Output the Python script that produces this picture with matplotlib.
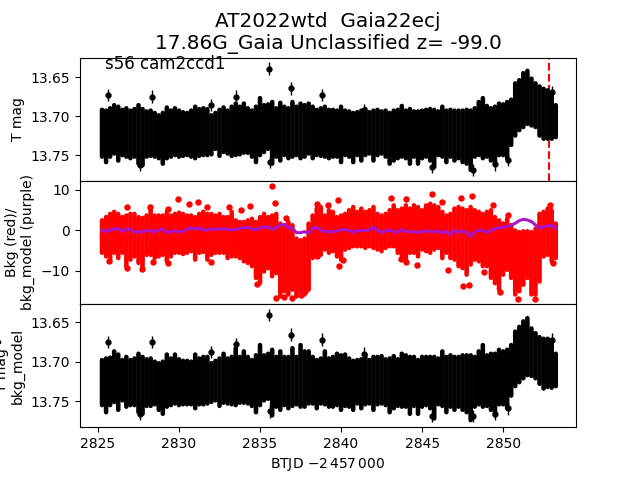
import matplotlib
matplotlib.use("Agg")
import matplotlib.pyplot as plt
import numpy as np

# one column of the dense light curve every 0.25 d
btjd = [2825.25, 2825.5, 2825.75, 2826.0, 2826.25, 2826.5, 2826.75, 2827.0, 2827.25, 2827.5,
        2827.75, 2828.0, 2828.25, 2828.5, 2828.75, 2829.0, 2829.25, 2829.5, 2829.75, 2830.0,
        2830.25, 2830.5, 2830.75, 2831.0, 2831.25, 2831.5, 2831.75, 2832.0, 2832.25, 2832.5,
        2832.75, 2833.0, 2833.25, 2833.5, 2833.75, 2834.0, 2834.25, 2834.5, 2834.75, 2835.0,
        2835.25, 2835.5, 2835.75, 2836.0, 2836.25, 2836.5, 2836.75, 2837.0, 2837.25, 2837.5,
        2837.75, 2838.0, 2838.25, 2838.5, 2838.75, 2839.0, 2839.25, 2839.5, 2839.75, 2840.0,
        2840.25, 2840.5, 2840.75, 2841.0, 2841.25, 2841.5, 2841.75, 2842.0, 2842.25, 2842.5,
        2842.75, 2843.0, 2843.25, 2843.5, 2843.75, 2844.0, 2844.25, 2844.5, 2844.75, 2845.0,
        2845.25, 2845.5, 2845.75, 2846.0, 2846.25, 2846.5, 2846.75, 2847.0, 2847.25, 2847.5,
        2847.75, 2848.0, 2848.25, 2848.5, 2848.75, 2849.0, 2849.25, 2849.5, 2849.75, 2850.0,
        2850.25, 2850.5, 2850.75, 2851.0, 2851.25, 2851.5, 2851.75, 2852.0, 2852.25, 2852.5,
        2852.75, 2853.0, 2853.25]

tmag_bright = [13.690, 13.691, 13.688, 13.684, 13.686, 13.690, 13.688, 13.691, 13.689, 13.684,
               13.689, 13.692, 13.691, 13.694, 13.697, 13.694, 13.687, 13.691, 13.688, 13.691,
               13.693, 13.694, 13.691, 13.686, 13.689, 13.688, 13.689, 13.697, 13.694, 13.690,
               13.687, 13.691, 13.686, 13.682, 13.686, 13.682, 13.688, 13.691, 13.686, 13.675,
               13.684, 13.683, 13.680, 13.688, 13.681, 13.686, 13.688, 13.680, 13.686, 13.682,
               13.684, 13.682, 13.686, 13.690, 13.688, 13.686, 13.690,
               13.690, 13.691, 13.686, 13.691, 13.692, 13.694, 13.693, 13.691, 13.689, 13.693,
               13.691, 13.690, 13.692, 13.691, 13.694, 13.691, 13.690, 13.685, 13.691, 13.689,
               13.692, 13.692, 13.691, 13.690, 13.689, 13.690, 13.692, 13.686, 13.691,
               13.690, 13.691, 13.691, 13.691, 13.690, 13.691, 13.688, 13.680, 13.675, 13.685,
               13.688, 13.686, 13.682, 13.683, 13.680, 13.677, 13.656, 13.652, 13.643, 13.640,
               13.650, 13.656, 13.660, 13.663, 13.665, 13.671, 13.684]
tmag_faint = [13.754, 13.761, 13.754, 13.750, 13.759, 13.752, 13.754, 13.756, 13.754, 13.763,
              13.765, 13.754, 13.753, 13.754, 13.756, 13.763, 13.756, 13.754, 13.752, 13.754,
              13.753, 13.752, 13.754, 13.756, 13.753, 13.752, 13.752, 13.751, 13.744, 13.753,
              13.748, 13.750, 13.753, 13.752, 13.751, 13.749, 13.749, 13.754, 13.761, 13.752,
              13.748, 13.744, 13.763, 13.754, 13.759, 13.752, 13.756, 13.754, 13.752, 13.756,
              13.754, 13.750, 13.756, 13.752, 13.753, 13.754, 13.756,
              13.754, 13.754, 13.761, 13.752, 13.754, 13.761, 13.752, 13.759, 13.752, 13.750,
              13.759, 13.752, 13.750, 13.754, 13.763, 13.759, 13.756, 13.754, 13.756, 13.763,
              13.754, 13.763, 13.756, 13.754, 13.759, 13.767, 13.752, 13.754, 13.761,
              13.754, 13.759, 13.756, 13.761, 13.763, 13.771, 13.754, 13.752, 13.756, 13.754,
              13.759, 13.763, 13.752, 13.752, 13.756, 13.739, 13.727, 13.720, 13.716, 13.712,
              13.714, 13.716, 13.727, 13.731, 13.731, 13.731, 13.729]

bkg_high = [3.0, 3.8, 4.6, 5.1, 4.6, 3.8, 4.2, 4.6, 4.6, 3.8,
            3.6, 4.2, 5.5, 4.2, 4.2, 4.2, 5.1, 4.2, 4.6, 4.9,
            4.6, 4.2, 4.2, 3.8, 4.6, 5.1, 4.6, 4.6, 4.2, 4.6,
            3.8, 3.8, 5.1, 3.0, 2.6, 2.6, 3.0, 3.4, 2.6, 3.8,
            4.6, 3.8, 4.2, 4.6, 2.2, 1.8, 2.6, 1.8, -1.5, -1.9,
            -1.5, 2.2, 4.2, 5.9, 6.3, 4.2, 5.5,
            5.1, 3.8, 4.2, 4.6, 5.5, 6.3, 5.1, 5.9, 5.1, 5.5,
            6.3, 4.6, 4.2, 4.6, 5.5, 6.7, 5.5, 5.9, 6.7, 5.9,
            6.7, 6.3, 5.5, 6.7, 7.1, 6.7, 6.3, 5.1, 4.2,
            4.6, 5.9, 6.3, 5.9, 5.5, 6.3, 5.5, 5.1, 4.6, 5.1,
            5.5, 3.8, 3.0, 2.2, 3.4, 1.8, 0.5, 0.1, 0.3, 0.3,
            0.1, 0.9, 4.6, 5.1, 5.9, 5.5, 2.2]
bkg_low = [-6.0, -6.9, -7.7, -6.0, -7.3, -6.0, -9.3, -7.7, -6.9, -8.5,
           -9.8, -6.5, -6.5, -7.3, -6.9, -6.5, -8.1, -6.9, -6.0, -6.0,
           -6.3, -6.0, -5.6, -7.7, -6.0, -5.8, -7.7, -6.5, -6.0, -6.0,
           -6.0, -7.3, -6.9, -6.9, -7.3, -8.1, -8.5, -9.3, -12.2, -13.5,
           -10.6, -9.8, -11.8, -11.0, -16.8, -15.5, -16.3, -15.1, -16.8, -15.5,
           -16.3, -15.1, -7.3, -6.0, -6.5, -5.2, -6.0,
           -5.6, -6.9, -7.7, -5.2, -4.8, -4.4, -4.4, -4.4, -4.8, -4.4,
           -4.8, -5.2, -5.6, -4.8, -4.4, -4.4, -6.0, -6.9, -7.7, -6.0,
           -6.0, -6.9, -5.2, -5.6, -6.0, -5.2, -4.8, -7.3, -6.0,
           -7.3, -7.7, -9.3, -9.8, -11.4, -8.9, -7.7, -8.1, -9.3, -9.3,
           -12.2, -13.5, -15.1, -11.4, -10.2, -12.2, -16.3, -15.5, -13.9, -12.2,
           -16.3, -16.3, -13.1, -6.9, -6.5, -8.1, -7.3]
bkg_model = [0.12, -0.29, 0.12, 0.37, 0.53, -0.29, 0.37, 0.29, -0.45, -0.29,
             -0.29, -0.04, -0.12, -0.29, 0.12, 0.37, -0.53, -0.29, -0.04, -0.29,
             -0.29, 0.37, 0.70, 0.29, 0.70, 0.12, 0.12, 0.37, 0.29, 0.37,
             0.37, 0.37, 0.12, 0.29, 0.53, 0.70, 0.78, 0.37, 0.12, 0.70,
             0.78, 0.95, 0.29, 0.70, 1.36, 1.53, 0.78, 0.53, -0.53, -0.53,
             -0.29, -0.70, 0.53, 0.78, 0.12, -0.29, -0.29,
             -0.29, -0.12, 0.12, 0.29, -0.04, -0.45, -0.04, -0.04, -0.04, 0.12,
             0.78, 0.12, -0.45, -0.12, 0.12, -0.29, -0.45, 0.29, -0.29, -0.29,
             -0.29, -0.45, -0.29, -0.04, -0.29, -0.29, -0.12, -0.70, -0.04,
             -1.10, 0.12, -0.53, -0.04, -0.45, -1.52, -0.29, 0.12, -0.04, -0.53,
             0.12, 0.37, 0.78, 0.78, 0.95, 1.36, 1.77, 2.43, 2.76, 2.60,
             2.20, 1.36, 0.53, 0.95, 1.11, 1.36, 0.53]

detr_bright = [13.696, 13.694, 13.693, 13.685, 13.689, 13.696, 13.692, 13.696, 13.694, 13.688,
               13.692, 13.695, 13.694, 13.698, 13.700, 13.698, 13.689, 13.694, 13.689, 13.695,
               13.697, 13.697, 13.698, 13.689, 13.694, 13.692, 13.692, 13.700, 13.697, 13.694,
               13.688, 13.694, 13.692, 13.681, 13.692, 13.685, 13.692, 13.696, 13.690, 13.677,
               13.690, 13.688, 13.683, 13.692, 13.685, 13.692, 13.692, 13.681, 13.692, 13.677,
               13.685, 13.685, 13.692, 13.696, 13.694, 13.685, 13.694,
               13.692, 13.688, 13.690, 13.689, 13.694, 13.697, 13.696, 13.695, 13.689, 13.696,
               13.692, 13.692, 13.691, 13.695, 13.694, 13.691, 13.695, 13.688, 13.690, 13.692,
               13.692, 13.696, 13.692, 13.692, 13.692, 13.692, 13.694, 13.685, 13.692,
               13.690, 13.692, 13.692, 13.690, 13.690, 13.690, 13.692, 13.685, 13.677, 13.690,
               13.688, 13.688, 13.683, 13.685, 13.683, 13.677, 13.660, 13.654, 13.647, 13.643,
               13.656, 13.662, 13.667, 13.669, 13.669, 13.671, 13.688]
detr_faint = [13.757, 13.766, 13.757, 13.753, 13.763, 13.751, 13.759, 13.757, 13.757, 13.766,
              13.768, 13.758, 13.758, 13.756, 13.763, 13.768, 13.759, 13.757, 13.755, 13.757,
              13.756, 13.756, 13.756, 13.761, 13.756, 13.756, 13.755, 13.753, 13.751, 13.758,
              13.754, 13.755, 13.756, 13.757, 13.754, 13.754, 13.755, 13.758, 13.766, 13.757,
              13.751, 13.749, 13.770, 13.759, 13.763, 13.757, 13.761, 13.758, 13.756, 13.759,
              13.759, 13.755, 13.755, 13.761, 13.755, 13.756, 13.759,
              13.759, 13.757, 13.763, 13.758, 13.759, 13.763, 13.755, 13.761, 13.756, 13.755,
              13.763, 13.756, 13.755, 13.757, 13.766, 13.761, 13.758, 13.759, 13.759, 13.768,
              13.758, 13.768, 13.759, 13.757, 13.761, 13.774, 13.756, 13.758, 13.766,
              13.759, 13.763, 13.759, 13.763, 13.766, 13.776, 13.759, 13.756, 13.759, 13.758,
              13.763, 13.770, 13.756, 13.756, 13.761, 13.745, 13.733, 13.728, 13.723, 13.719,
              13.720, 13.723, 13.730, 13.736, 13.734, 13.735, 13.733]

# isolated points above and below the band
out_t = [2825.64, 2828.35, 2832.0, 2833.52, 2835.57, 2836.91, 2838.8, 2835.62, 2827.6,
         2841.4, 2845.6, 2848.15, 2849.5, 2850.3, 2853.0]
out_mag = [13.673, 13.675, 13.686, 13.675, 13.639, 13.6645, 13.673, 13.7586, 13.763,
           13.692, 13.765, 13.769, 13.762, 13.756, 13.669]
out_detr = [13.675, 13.675, 13.688, 13.678, 13.641, 13.666, 13.672, 13.763, 13.766,
            13.690, 13.769, 13.769, 13.766, 13.759, 13.672]
out_err = [0.008, 0.008, 0.008, 0.008, 0.008, 0.008, 0.008, 0.008, 0.008,
           0.008, 0.008, 0.008, 0.008, 0.008, 0.008]

bkg_out_t = [2835.76, 2829.96, 2830.6, 2831.2, 2835.9, 2826.8, 2828.2, 2829.3, 2831.7, 2833.1,
             2833.8, 2834.4, 2836.6, 2838.5, 2839.2, 2839.8, 2843.1, 2844.0, 2845.6, 2846.2,
             2847.4, 2848.1, 2849.4, 2850.3, 2852.9,
             2825.7, 2826.8, 2827.7, 2828.4, 2829.3, 2832.0, 2834.8, 2836.0, 2836.5, 2837.0,
             2837.5, 2837.8, 2838.5, 2839.9, 2840.1, 2843.7, 2844.0, 2844.7, 2846.6, 2847.5,
             2847.9, 2848.8, 2849.8, 2850.9, 2852.0, 2853.1]
bkg_out = [11.0, 7.7, 6.5, 7.0, 6.7, 5.7, 5.7, 5.4, 5.7, 5.7,
           5.1, 6.0, 3.2, 6.5, 6.3, 7.5, 7.9, 7.7, 9.0, 7.1,
           7.9, 8.5, 6.3, 3.9, 6.3,
           -7.5, -9.3, -9.6, -7.9, -8.1, -7.9, -13.2, -16.7, -16.3, -16.7,
           -16.0, -15.0, -6.3, -8.7, -7.3, -7.0, -7.8, -8.6, -9.7, -13.7,
           -13.5, -10.3, -15.3, -16.8, -16.8, -8.1]

flare_t = 2852.84
mag_ticks = [13.65, 13.70, 13.75]
bkg_ticks = [-10, 0, 10]


def plot_band(ax, bright, faint, color, cap):
    # cap = how far the round line end reaches past the bar, in data units
    bright = np.array(bright)
    faint = np.array(faint)
    half = np.abs(faint - bright) / 2 - cap
    eb = ax.errorbar(btjd, (bright + faint) / 2, yerr=half.clip(0), fmt="none",
                     ecolor=color, elinewidth=3.3, zorder=2.5)
    eb[2][0].set_capstyle("round")
    eb[2][0].set_snap(False)


fig, (ax1, ax2, ax3) = plt.subplots(3, 1, sharex=True, figsize=(6.4, 4.8))
fig.subplots_adjust(hspace=0)

# top: T mag
plot_band(ax1, tmag_bright, tmag_faint, "k", 0.002)
ax1.errorbar(out_t, out_mag, yerr=out_err, fmt="o", color="k", ms=3.5, lw=1, zorder=3)
ax1.axvline(flare_t, color="r", ls="--", lw=1.5, zorder=2)
ax1.set_ylim(13.783, 13.625)
ax1.set_yticks(mag_ticks)
ax1.set_yticklabels(["13.65", "13.70", "13.75"])
ax1.set_ylabel("T mag")
ax1.text(2825.45, 13.6335, "s56 cam2ccd1", fontsize=12, va="center")
ax1.set_title("AT2022wtd  Gaia22ecj\n17.86G_Gaia Unclassified z= -99.0", fontsize=14.4)

# middle: background
plot_band(ax2, bkg_low, bkg_high, "r", 0.5)
ax2.plot(bkg_out_t, bkg_out, "o", color="r", ms=3.6, zorder=2)
ax2.plot(btjd, bkg_model, color="#a814c8", lw=2.2, zorder=3)
ax2.set_ylim(-18.15, 12.27)
ax2.set_yticks(bkg_ticks)
ax2.set_ylabel("Bkg (red)/\nbkg_model (purple)")

# bottom: T mag minus background model
plot_band(ax3, detr_bright, detr_faint, "k", 0.002)
ax3.errorbar(out_t, out_detr, yerr=out_err, fmt="o", color="k", ms=3.5, lw=1, zorder=3)
ax3.set_ylim(13.783, 13.627)
ax3.set_yticks(mag_ticks)
ax3.set_yticklabels(["13.65", "13.70", "13.75"])
ax3.set_ylabel("T mag -\nbkg_model")
ax3.set_xlim(2823.89, 2854.5)
ax3.set_xlabel(r"BTJD $-2\,457\,000$")

plt.savefig("out.png", dpi=100)
